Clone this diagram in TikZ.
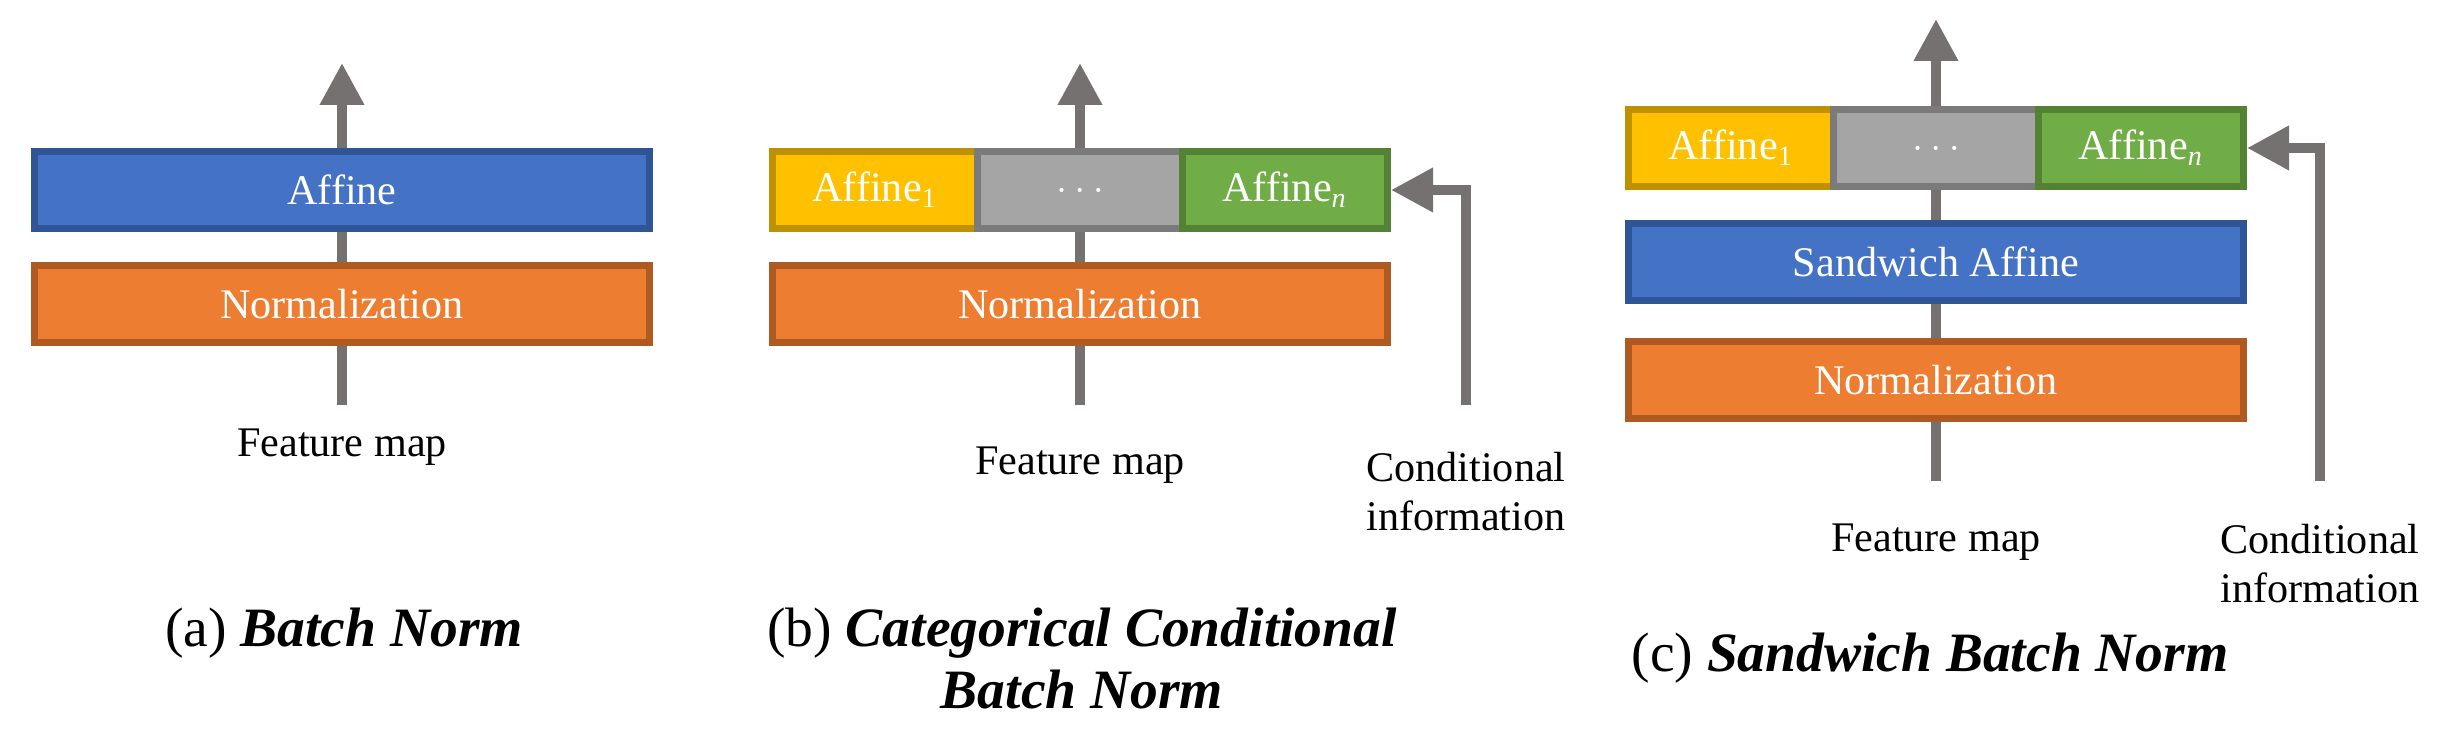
\documentclass[tikz,border=0pt]{standalone}
\usepackage{fontspec}
\setmainfont{Liberation Serif}
\usetikzlibrary{arrows.meta,positioning}
\definecolor{bnblue}{HTML}{4472C4}
\definecolor{bnblueline}{HTML}{2F5597}
\definecolor{bnorange}{HTML}{ED7D31}
\definecolor{bnorangeline}{HTML}{AE5A21}
\definecolor{bnyellow}{HTML}{FFC000}
\definecolor{bnyellowline}{HTML}{BF9000}
\definecolor{bngray}{HTML}{A5A5A5}
\definecolor{bngrayline}{HTML}{7B7B7B}
\definecolor{bngreen}{HTML}{70AD47}
\definecolor{bngreenline}{HTML}{548235}
\definecolor{bnarrow}{HTML}{767171}

\begin{document}
\begin{tikzpicture}[x=0.1mm, y=-0.1mm,
    block_wide/.style ={rectangle, line width=0.7mm, text=white, font=\fontsize{12}{14}\selectfont,
      minimum width=61.5mm, minimum height=7.7mm, inner sep=0pt},
    block_part/.style ={rectangle, line width=0.7mm, text=white, font=\fontsize{12}{14}\selectfont,
      minimum width=20.5mm, minimum height=7.7mm, inner sep=0pt},
    block_norm/.style ={block_wide, draw=bnorangeline, fill=bnorange},
    block_affine/.style ={block_wide, draw=bnblueline, fill=bnblue},
    block_one/.style ={block_part, draw=bnyellowline, fill=bnyellow},
    block_dots/.style ={block_part, draw=bngrayline, fill=bngray},
    block_n/.style ={block_part, draw=bngreenline, fill=bngreen},
    block_label/.style ={font=\fontsize{12}{13.8}\selectfont, align=center, inner sep=0pt},
    block_caption/.style ={font=\fontsize{15.8}{17.6}\selectfont, align=center, inner sep=0pt, anchor=north},
    line/.style ={draw=bnarrow, line width=1mm},
    line_arrow/.style ={line, -{Triangle[length=4.2mm,width=4.2mm]}}]
    \useasboundingbox (0,0) rectangle (2450,748);
    % (a) batch norm
    \node [block_affine] (affine_a) at (342,190) {Affine};
    \node [block_norm] (norm_a) [below=3mm of affine_a] {Normalization};
    \coordinate [above=8.5mm of affine_a] (out_a);
    \coordinate [below=5.9mm of norm_a] (in_a);
    \node [block_label] (fmap_a) [below=2.3mm of in_a] {Feature map};
    \node [block_caption] (cap_a) at (344,607) {(a) \textbf{\textit{Batch Norm}}};
    % (b) categorical conditional batch norm
    \node [block_one] (affone_b) at (875,190) {Affine\textsubscript{1}};
    \node [block_dots] (dots_b) [right=-0.7mm of affone_b] {$\ldots$};
    \node [block_n] (affn_b) [right=-0.7mm of dots_b] {Affine\textsubscript{\textit{n}}};
    \node [block_norm] (norm_b) [below=3mm of dots_b] {Normalization};
    \coordinate [above=8.5mm of dots_b] (out_b);
    \coordinate [below=5.9mm of norm_b] (in_b);
    \coordinate [right=38.6mm of in_b] (cond_b);
    \node [block_label] (fmap_b) [below=4.1mm of in_b] {Feature map};
    \node [block_label] (condinfo_b) [below=4.7mm of cond_b] {Conditional\\information};
    \node [block_caption] (cap_b) at (1082,607) {(b) \textbf{\textit{Categorical Conditional}}\\\textbf{\textit{Batch Norm}}};
    % (c) sandwich batch norm
    \node [block_one] (affone_c) at (1731,148) {Affine\textsubscript{1}};
    \node [block_dots] (dots_c) [right=-0.7mm of affone_c] {$\ldots$};
    \node [block_n] (affn_c) [right=-0.7mm of dots_c] {Affine\textsubscript{\textit{n}}};
    \node [block_affine] (sand_c) [below=3mm of dots_c] {Sandwich Affine};
    \node [block_norm] (norm_c) [below=3.4mm of sand_c] {Normalization};
    \coordinate [above=8.7mm of dots_c] (out_c);
    \coordinate [below=5.9mm of norm_c] (in_c);
    \coordinate [right=38.4mm of in_c] (cond_c);
    \node [block_label] (fmap_c) [below=4.2mm of in_c] {Feature map};
    \node [block_label] (condinfo_c) [below=4.3mm of cond_c] {Conditional\\information};
    \node [block_caption] (cap_c) at (1930,632) {(c) \textbf{\textit{Sandwich Batch Norm}}};
    % connecting nodes with paths
    \begin{scope}[every path/.style=line]
      \path (in_a)   -- (norm_a);
      \path (norm_a) -- (affine_a);
      \path[line_arrow] (affine_a) -- (out_a);
      \path (in_b)   -- (norm_b);
      \path (norm_b) -- (dots_b);
      \path[line_arrow] (dots_b) -- (out_b);
      \path[line_arrow] (cond_b) |- (affn_b);
      \path (in_c)   -- (norm_c);
      \path (norm_c) -- (sand_c);
      \path (sand_c) -- (dots_c);
      \path[line_arrow] (dots_c) -- (out_c);
      \path[line_arrow] (cond_c) |- (affn_c);
    \end{scope}
\end{tikzpicture}
\end{document}
